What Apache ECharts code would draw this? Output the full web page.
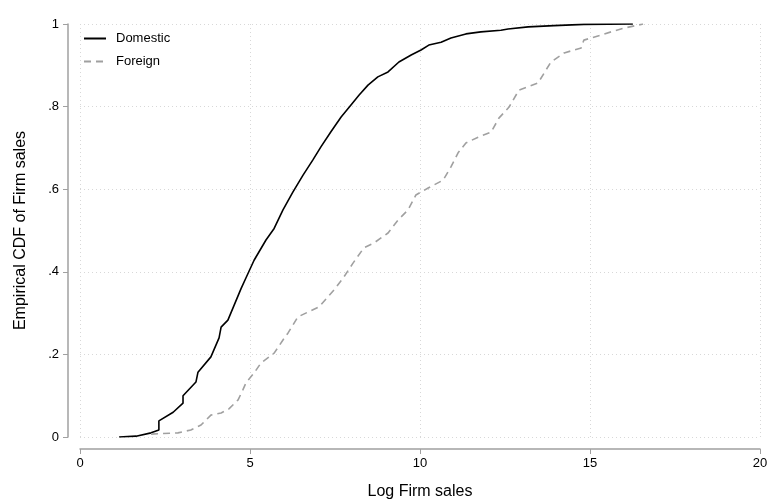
<!DOCTYPE html>
<html>
<head>
<meta charset="utf-8">
<script src="https://cdn.jsdelivr.net/npm/echarts@6/dist/echarts.min.js"></script>
<style>html,body{margin:0;padding:0;background:#fff;}#c{width:769px;height:500px;}</style>
</head>
<body>
<div id="c"></div>
<script>
const seriesNames = ['Domestic', 'Foreign'];
const domX = [1.15,1.65,2.09,2.32,2.32,2.74,3.03,3.03,3.41,3.47,3.85,4.09,4.15,4.35,4.74,4.88,5.12,5.47,5.71,5.97,6.26,6.56,6.85,7.09,7.38,7.68,7.97,8.21,8.47,8.76,9.06,9.38,9.74,10.03,10.26,10.62,10.91,11.35,11.79,12.38,12.59,13.18,13.94,14.82,16.26];
const domY = [0,0.002,0.01,0.017,0.039,0.06,0.082,0.1,0.133,0.157,0.194,0.24,0.266,0.283,0.36,0.385,0.428,0.477,0.505,0.55,0.593,0.634,0.671,0.703,0.739,0.775,0.804,0.828,0.852,0.872,0.884,0.908,0.925,0.937,0.949,0.956,0.966,0.976,0.981,0.985,0.988,0.993,0.996,0.999,1.0];
const forX = [2.09,2.88,3.26,3.56,3.85,4.15,4.38,4.65,4.79,4.88,5.12,5.32,5.71,5.97,6.12,6.41,7.03,7.47,7.74,8.03,8.35,8.65,9.06,9.35,9.65,9.88,10.24,10.68,10.91,11.12,11.35,11.71,12.09,12.32,12.62,12.91,13.47,13.65,13.85,14.24,14.74,14.82,15.32,15.62,16.0,16.56];
const forY = [0.007,0.01,0.017,0.029,0.053,0.058,0.068,0.09,0.114,0.131,0.155,0.179,0.203,0.235,0.252,0.291,0.315,0.356,0.385,0.421,0.458,0.47,0.494,0.525,0.55,0.586,0.603,0.622,0.654,0.688,0.712,0.726,0.738,0.772,0.799,0.84,0.857,0.881,0.908,0.93,0.942,0.961,0.973,0.981,0.99,1.0];
const xTicks = [0,5,10,15,20];
const yTicks = [0,0.2,0.4,0.6,0.8,1];
const xTitle = 'Log Firm sales';
const yTitle = 'Empirical CDF of Firm sales';

const font = 'Liberation Sans, Arial, Helvetica, sans-serif';
const pair = (xs, ys) => xs.map((v, i) => [v, ys[i]]);
const chart = echarts.init(document.getElementById('c'), null, {renderer: 'canvas'});
chart.setOption({
  animation: false,
  backgroundColor: '#fff',
  grid: {left: 80, right: 9, top: 24, bottom: 63, containLabel: false, outerBoundsMode: 'none'},
  legend: {
    left: 78, top: 27, orient: 'vertical', itemWidth: 22, itemHeight: 12, itemGap: 10,
    textStyle: {fontFamily: font, fontSize: 13, color: '#000', padding: [0,0,0,5]},
    itemStyle: {opacity: 0},
    data: seriesNames
  },
  xAxis: {
    type: 'value', min: xTicks[0], max: xTicks[xTicks.length-1], interval: 5, offset: 12,
    name: xTitle, nameLocation: 'middle', nameGap: 35,
    nameTextStyle: {fontFamily: font, fontSize: 16, color: '#000'},
    axisLine: {show: true, onZero: false, lineStyle: {color: '#a0a0a0', width: 1.5}},
    axisTick: {show: true, length: 5, lineStyle: {color: '#a0a0a0'}},
    axisLabel: {fontFamily: font, fontSize: 13, color: '#000', margin: 8},
    splitLine: {show: true, lineStyle: {color: '#d8d8d8', type: [1, 3]}}
  },
  yAxis: {
    type: 'value', min: 0, max: 1, interval: 0.2, offset: 12,
    name: yTitle, nameLocation: 'middle', nameGap: 39, nameRotate: 90,
    nameTextStyle: {fontFamily: font, fontSize: 16, color: '#000'},
    axisLine: {show: true, onZero: false, lineStyle: {color: '#a0a0a0', width: 1.5}},
    axisTick: {show: true, length: 5, lineStyle: {color: '#a0a0a0'}},
    axisLabel: {fontFamily: font, fontSize: 13, color: '#000', margin: 9,
      formatter: v => (v === 0 ? '0' : (v === 1 ? '1' : String(+v.toFixed(1)).replace(/^0/, '')))},
    splitLine: {show: true, lineStyle: {color: '#d8d8d8', type: [1, 3]}}
  },
  series: [
    {name: seriesNames[0], type: 'line', data: pair(domX, domY), showSymbol: false, symbol: 'none',
     lineStyle: {color: '#000', width: 1.6}, itemStyle: {color: '#000'}},
    {name: seriesNames[1], type: 'line', data: pair(forX, forY), showSymbol: false, symbol: 'none',
     lineStyle: {color: '#a0a0a0', width: 1.6, type: [7, 5]}, itemStyle: {color: '#a0a0a0'}}
  ]
});
</script>
</body>
</html>
